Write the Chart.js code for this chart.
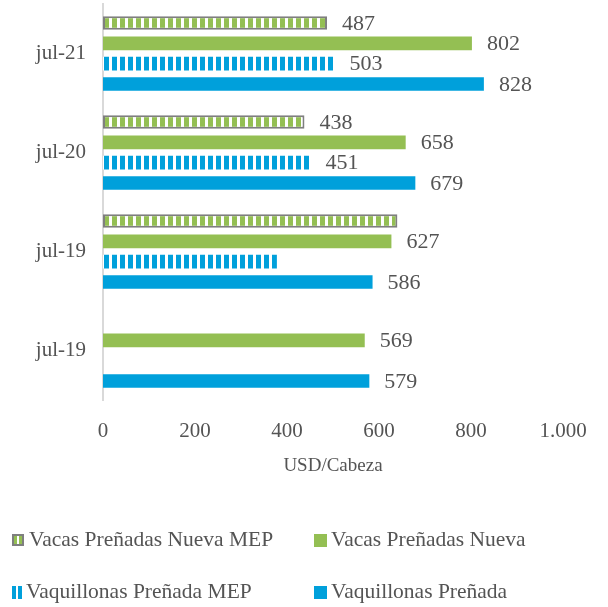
<!DOCTYPE html>
<html>
<head>
<meta charset="utf-8">
<script src="https://cdn.jsdelivr.net/npm/chart.js@4"></script>
<style>
html,body{margin:0;padding:0;background:#fff;}
#wrap{width:608px;height:607px;position:relative;}
</style>
</head>
<body>
<div id="wrap"><canvas id="c" width="608" height="607"></canvas></div>
<script>
// ---- data ----
const categories = ['jul-21', 'jul-20', 'jul-19', 'jul-19'];
const seriesNames = ['Vacas Preñadas Nueva MEP', 'Vacas Preñadas Nueva', 'Vaquillonas Preñada MEP', 'Vaquillonas Preñada'];
const vacasNuevaMEP = [487, 438, 640, null];
const vacasNueva = [802, 658, 627, 569];
const vaquillonasMEP = [503, 451, 378, null];
const vaquillonas = [828, 679, 586, 579];
const xTickLabels = ['0', '200', '400', '600', '800', '1.000'];
const unlabeledPoints = [[0, 2], [2, 2]]; // [dataset, index] with no value label

// ---- styles ----
const GREEN = '#94BF53';
const BLUE = '#00A0DB';
const GREY_BORDER = '#7f7f7f';
const TEXT = '#545454';
const FONT = '"Liberation Serif", "DejaVu Serif", serif';

function stripePattern(color, period, on) {
  const c = document.createElement('canvas');
  c.width = period; c.height = 4;
  const g = c.getContext('2d');
  g.fillStyle = '#ffffff';
  g.fillRect(0, 0, period, 4);
  g.fillStyle = color;
  g.fillRect(0, 0, on, 4);
  return document.getElementById('c').getContext('2d').createPattern(c, 'repeat');
}
const greenStripes = stripePattern(GREEN, 8, 5);
const blueStripes = stripePattern(BLUE, 8, 5);

const valueLabels = {
  id: 'valueLabels',
  afterDatasetsDraw(chart) {
    const ctx = chart.ctx;
    ctx.save();
    ctx.font = '22px ' + FONT;
    ctx.fillStyle = TEXT;
    ctx.textAlign = 'left';
    ctx.textBaseline = 'middle';
    chart.data.datasets.forEach((ds, di) => {
      const meta = chart.getDatasetMeta(di);
      meta.data.forEach((bar, i) => {
        const v = ds.data[i];
        if (v == null) return;
        if (unlabeledPoints.some(p => p[0] === di && p[1] === i)) return;
        ctx.fillText(String(v), bar.x + 15, bar.y + 1);
      });
    });
    ctx.restore();
  }
};

const customLegend = {
  id: 'customLegend',
  afterDraw(chart) {
    const ctx = chart.ctx;
    const ds = chart.data.datasets;
    const pos = [[12, 540], [314, 540], [12, 592], [314, 592]];
    ctx.save();
    ctx.font = '21.5px ' + FONT;
    ctx.fillStyle = TEXT;
    ctx.textBaseline = 'middle';
    ctx.textAlign = 'left';
    pos.forEach((p, i) => {
      const [x, y] = p;
      if (i === 0) {
        ctx.fillStyle = GREY_BORDER;
        ctx.fillRect(x, y - 6, 12, 12);
        ctx.fillStyle = GREEN;
        ctx.fillRect(x + 2, y - 4, 8, 8);
        ctx.fillStyle = '#ffffff';
        ctx.fillRect(x + 5, y - 4, 2, 8);
      } else if (i === 2) {
        ctx.fillStyle = BLUE;
        ctx.fillRect(x, y - 6, 4, 13);
        ctx.fillRect(x + 6, y - 6, 4, 13);
      } else {
        ctx.fillStyle = i === 1 ? GREEN : BLUE;
        ctx.fillRect(x, y - 6, 13, 13);
      }
      ctx.fillStyle = TEXT;
      ctx.fillText(ds[i].label, x + (i === 2 ? 14 : 17), y);
    });
    ctx.restore();
  }
};

new Chart(document.getElementById('c'), {
  type: 'bar',
  data: {
    labels: categories,
    datasets: [
      { label: seriesNames[0], data: vacasNuevaMEP, backgroundColor: greenStripes, borderColor: GREY_BORDER, borderWidth: 2, borderSkipped: false },
      { label: seriesNames[1], data: vacasNueva, backgroundColor: GREEN, borderWidth: 0 },
      { label: seriesNames[2], data: vaquillonasMEP, backgroundColor: blueStripes, borderWidth: 0 },
      { label: seriesNames[3], data: vaquillonas, backgroundColor: BLUE, borderWidth: 0 }
    ]
  },
  options: {
    indexAxis: 'y',
    responsive: false,
    animation: false,
    devicePixelRatio: 1,
    categoryPercentage: 0.82,
    barPercentage: 0.67,
    layout: { padding: { top: 4, right: 45, bottom: 130, left: 0 } },
    plugins: {
      legend: { display: false },
      tooltip: { enabled: false }
    },
    scales: {
      x: {
        min: 0, max: 1000,
        grid: { display: false, drawTicks: false },
        border: { display: false },
        ticks: {
          stepSize: 200,
          padding: 19,
          color: TEXT,
          font: { family: FONT, size: 21 },
          callback: (v, i) => xTickLabels[i]
        },
        title: {
          display: true,
          text: 'USD/Cabeza',
          color: TEXT,
          font: { family: FONT, size: 19 },
          padding: { top: 6, bottom: 0 }
        },
        afterFit: s => { s.height = 77; s.paddingLeft = 0; }
      },
      y: {
        grid: { display: false, drawTicks: false },
        border: { display: true, color: '#d9d9d9', width: 2 },
        ticks: {
          padding: 17,
          color: TEXT,
          font: { family: FONT, size: 21 }
        },
        afterFit: s => { s.width = 103; s.paddingTop = 0; s.paddingBottom = 0; }
      }
    }
  },
  plugins: [valueLabels, customLegend]
});
</script>
</body>
</html>
